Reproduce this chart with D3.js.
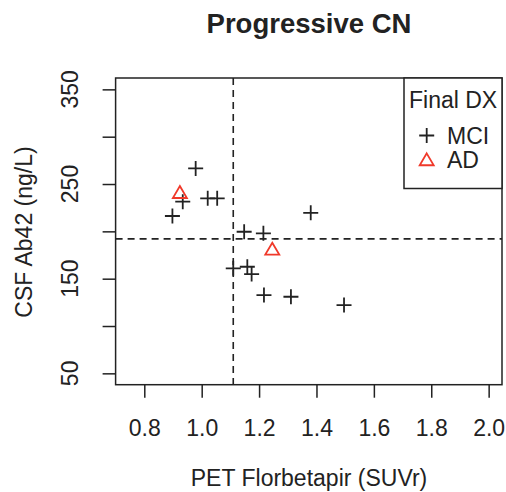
<!DOCTYPE html>
<html>
<head>
<meta charset="utf-8">
<script src="https://cdn.jsdelivr.net/npm/d3@7"></script>
<style>
  body { margin: 0; background: #fff; }
  svg { display: block; font-family: "Liberation Sans", Arial, sans-serif; }
</style>
</head>
<body>
<svg id="chart" width="506" height="492"></svg>
<script>
// data
const mciPet = [0.979, 0.934, 1.021, 1.054, 0.898, 1.380, 1.148, 1.215, 1.110, 1.159, 1.174, 1.217, 1.311, 1.496];
const mciCsf = [266.5, 231.3, 234.9, 234.9, 216.2, 219.6, 199.6, 197.9, 160.9, 162.6, 154.9, 132.7, 130.9, 122.1];
const adPet = [0.924, 1.246];
const adCsf = [240.8, 181.0];
const petCutoff = 1.11;
const csfCutoff = 192;
const xTicks = [0.8, 1.0, 1.2, 1.4, 1.6, 1.8, 2.0];
const yTicks = [50, 100, 150, 200, 250, 300, 350];
const yTickLabels = [50, 150, 250, 350]; // R drops the crowded ones
const legendItems = ["MCI", "AD"];

const ink = "#222";
const adColor = "#f0392a";

const svg = d3.select("#chart");
const x = d3.scaleLinear().domain([0.70, 2.05]).range([115.6, 503]);
const y = d3.scaleLinear().domain([38, 362]).range([384.7, 78]);

// title
svg.append("text")
  .attr("x", 309).attr("y", 33)
  .attr("text-anchor", "middle")
  .attr("font-size", 27.5).attr("font-weight", "bold").attr("fill", ink)
  .text("Progressive CN");

// axes
const xAxis = svg.append("g")
  .attr("transform", `translate(0,${y.range()[0]})`)
  .call(d3.axisBottom(x).tickValues(xTicks).tickFormat(d3.format(".1f")).tickSize(13).tickPadding(22));
const yAxis = svg.append("g")
  .attr("transform", `translate(${x.range()[0]},0)`)
  .call(d3.axisLeft(y).tickValues(yTicks).tickSize(13).tickFormat(""));

[xAxis, yAxis].forEach(g => {
  g.select(".domain").remove();
  g.selectAll(".tick line").attr("stroke", ink).attr("stroke-width", 1.5);
});
xAxis.selectAll(".tick text").attr("font-size", 23).attr("fill", ink).attr("font-family", null);

// y tick labels parallel to the axis
svg.append("g").selectAll("text")
  .data(yTickLabels)
  .join("text")
  .attr("transform", d => `translate(78,${y(d)}) rotate(-90)`)
  .attr("text-anchor", "middle")
  .attr("font-size", 23).attr("fill", ink)
  .text(d => d);

// axis titles
svg.append("text")
  .attr("x", 309).attr("y", 486)
  .attr("text-anchor", "middle")
  .attr("font-size", 23).attr("fill", ink)
  .text("PET Florbetapir (SUVr)");
svg.append("text")
  .attr("transform", `translate(32,232) rotate(-90)`)
  .attr("text-anchor", "middle")
  .attr("font-size", 23).attr("fill", ink)
  .text("CSF Ab42 (ng/L)");

// plot box
svg.append("rect")
  .attr("x", x.range()[0]).attr("y", y.range()[1])
  .attr("width", x.range()[1] - x.range()[0] - 1)
  .attr("height", y.range()[0] - y.range()[1])
  .attr("fill", "none").attr("stroke", ink).attr("stroke-width", 1.5);

// cutoff lines
svg.append("line")
  .attr("x1", x(petCutoff)).attr("x2", x(petCutoff))
  .attr("y1", y.range()[1]).attr("y2", y.range()[0])
  .attr("stroke", ink).attr("stroke-width", 1.6).attr("stroke-dasharray", "7,5");
svg.append("line")
  .attr("x1", x.range()[0]).attr("x2", x.range()[1] - 1)
  .attr("y1", y(csfCutoff)).attr("y2", y(csfCutoff))
  .attr("stroke", ink).attr("stroke-width", 1.6).attr("stroke-dasharray", "7,5");

const plusPath = (s) => `M${-s},0H${s}M0,${-s}V${s}`;
const triPath = (s) => `M0,${-s * 0.95}L${s},${s * 0.75}L${-s},${s * 0.75}Z`;

// MCI points
svg.append("g").selectAll("path")
  .data(d3.zip(mciPet, mciCsf))
  .join("path")
  .attr("transform", d => `translate(${x(d[0])},${y(d[1])})`)
  .attr("d", plusPath(7.5))
  .attr("stroke", ink).attr("stroke-width", 1.8).attr("fill", "none");

// AD points
svg.append("g").selectAll("path")
  .data(d3.zip(adPet, adCsf))
  .join("path")
  .attr("transform", d => `translate(${x(d[0])},${y(d[1])})`)
  .attr("d", triPath(7))
  .attr("stroke", adColor).attr("stroke-width", 1.8).attr("fill", "none");

// legend
const lg = svg.append("g");
lg.append("rect")
  .attr("x", 404).attr("y", y.range()[1])
  .attr("width", x.range()[1] - 1 - 404).attr("height", 188.5 - y.range()[1])
  .attr("fill", "#fff").attr("stroke", ink).attr("stroke-width", 1.5);
lg.append("text")
  .attr("x", 409).attr("y", 108)
  .attr("font-size", 23).attr("fill", ink)
  .text("Final DX");
legendItems.forEach((name, i) => {
  const cy = 135.5 + i * 24.5;
  lg.append("path")
    .attr("transform", `translate(426.7,${cy})`)
    .attr("d", i === 0 ? plusPath(7.5) : triPath(7))
    .attr("stroke", i === 0 ? ink : adColor).attr("stroke-width", 1.8).attr("fill", "none");
  lg.append("text")
    .attr("x", 447).attr("y", cy + 8)
    .attr("font-size", 23).attr("fill", ink)
    .text(name);
});
</script>
</body>
</html>
